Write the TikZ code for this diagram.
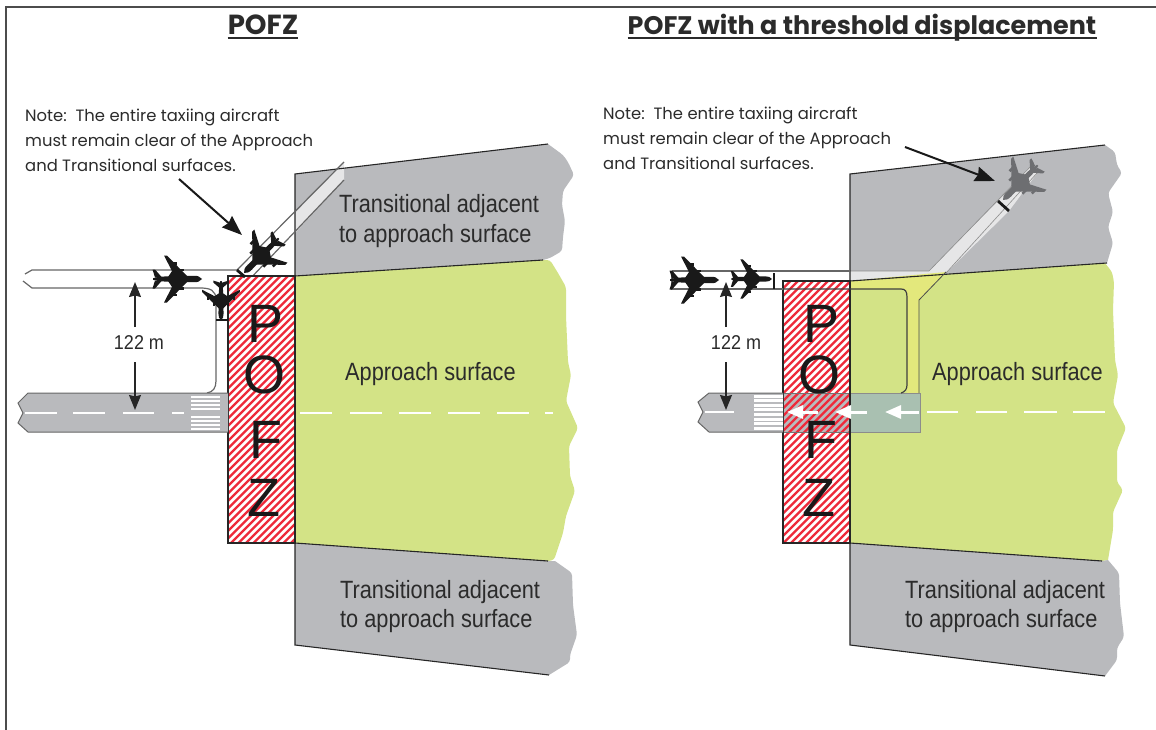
\documentclass[tikz,border=0pt]{standalone}
\usepackage{fontspec}
\usepackage{xcolor}
\usepackage{tikz}
\usetikzlibrary{arrows.meta}
\newfontfamily\notefont{Poppins}
\setmainfont{Liberation Sans}
\definecolor{surfgray}{HTML}{B9BABD}
\definecolor{surfgreen}{HTML}{D3E386}
\definecolor{taxiyellow}{HTML}{E3E87C}
\definecolor{taxilight}{HTML}{E6E6E7}
\definecolor{bandblue}{HTML}{A9C0B1}
\definecolor{hatchred}{HTML}{EE2A3A}
\definecolor{inktext}{HTML}{2B2B2B}
\definecolor{planegray}{HTML}{6D6E71}
\tikzstyle{arrow} = [-{Stealth[length=15pt,width=12pt,inset=1.5pt]}, line width=1.5pt, black!85]
\tikzstyle{notearrow} = [-{Stealth[length=20pt,width=15pt,inset=2pt]}, line width=2pt, black!90]
\tikzstyle{edgeline} = [line width=1.1pt, black!85]
\tikzstyle{taxiline} = [line width=1.2pt, black!60]
\tikzstyle{dashline} = [line width=2.4pt, white]
\tikzstyle{hatchline} = [line width=2.3pt, hatchred]
\tikzstyle{holdbar} = [line width=2.8pt, black!90]
\tikzstyle{uline} = [line width=2pt, inktext]
\tikzstyle{titletext} = [font=\notefont\bfseries, text=inktext, inner sep=0pt]
\tikzstyle{notetext} = [font=\notefont\fontsize{16.4}{25}\selectfont, text=inktext, align=left, anchor=north west, inner sep=0pt]
\tikzstyle{surftext} = [font=\fontsize{25}{29.5}\selectfont, text=inktext, align=left, anchor=west, inner sep=0pt, xscale=0.87, transform shape]
\tikzstyle{dimtext} = [font=\fontsize{20}{24}\selectfont, text=inktext, inner sep=0pt, xscale=0.9, transform shape]
\tikzstyle{pofztext} = [font=\fontsize{54}{54}\selectfont, text=black!90, inner sep=0pt]
\tikzset{plane/.pic={
	\fill [pic actions] (24,0) .. controls (22,2.4) and (20,3.2) .. (16,3.2) -- (-18,2.4) -- (-25,0.8) -- (-25,-0.8) -- (-18,-2.4) -- (16,-3.2) .. controls (20,-3.2) and (22,-2.4) .. (24,0) -- cycle;
	\foreach \s in {1,-1} {
		\fill [pic actions] (10,{2*\s}) -- (-11,{23.5*\s}) -- (-14,{23.5*\s}) -- (-6,{8*\s}) -- (-10,{2*\s}) -- cycle;
		\fill [pic actions] (-16,{1.5*\s}) -- (-23,{9.5*\s}) -- (-25.5,{9.5*\s}) -- (-23,{1.5*\s}) -- cycle;
		\fill [pic actions] (6,{8*\s}) -- (-1,{8*\s}) -- (-1,{10.5*\s}) -- (6,{10.5*\s}) -- cycle;
		\fill [pic actions] (-1,{14.5*\s}) -- (-7,{14.5*\s}) -- (-7,{17*\s}) -- (-1,{17*\s}) -- cycle;
	}
}}

\begin{document}
\begin{tikzpicture}[x=1pt, y=-1pt]
	\useasboundingbox (0,0) rectangle (1156,730);
	\draw [line width=1.3pt, black!70] (6,730) -- (6,7) -- (1156,7);

	\fill [surfgray] (295,174) -- (548,144) [rounded corners=3pt] -- (563,155) -- (568,162) -- (574,175) -- (563,191) -- (562,205) -- (565,221) -- (563,237) -- (562,251) -- (550,258) [sharp corners] -- (543,260) -- (295,276) -- cycle;
	\fill [surfgreen] (295,276) -- (543,260) [rounded corners=3pt] -- (550,260) -- (558,273) -- (566,287) -- (566,316) -- (568,362) -- (571,375) -- (566,401) -- (578,428) -- (569,446) -- (570,476) -- (575,491) -- (566,516) -- (563,533) -- (554,560) [sharp corners] -- (548,561) -- (295,543) -- cycle;
	\fill [surfgray] (295,543) -- (548,561) -- (555,561) [rounded corners=3pt] -- (572,573) -- (573,605) -- (577,635) -- (570,655) -- (570,662) [sharp corners] -- (549,675) -- (295,645) -- cycle;
	\fill [taxilight] (295,213) -- (344,162) -- (344,180) -- (295,233) -- cycle;
	\draw [edgeline] (548,144) -- (295,174) -- (295,276) -- (543,260);
	\draw [edgeline] (548,561) -- (295,543) -- (295,645) -- (549,675);
	\draw [taxiline] (237,270) -- (344,162);
	\draw [taxiline] (248,281) -- (344,180);
	\draw [taxiline] (25,274) -- (32,270) -- (237,270);
	\draw [taxiline] (23,281) -- (32,288) -- (200,288) .. controls (210,288) and (216,290) .. (216,300) -- (216,381) .. controls (216,388) and (213,392) .. (207,393);

	\fill [white] (228,276) rectangle (295,543);
	\begin{scope}
		\clip (228,276) rectangle (295,543);
		\foreach \i in {0,7.5,...,345} \draw [hatchline] (228,{276+\i}) -- (295,{276+\i-67});
	\end{scope}
	\draw [edgeline] (228,276) rectangle (295,543);

	\fill [surfgray] (228,393) -- (28,393) -- (18,403) -- (23,413) -- (18,423) -- (28,432) -- (228,432) -- cycle;
	\draw [line width=1pt, black!60] (228,393) -- (28,393) -- (18,403) -- (23,413) -- (18,423) -- (28,432) -- (228,432);
	\foreach \y in {397,401,405,409,417,421,425,429} \draw [line width=2pt, white] (191,\y) -- (220,\y);
	\foreach \a/\b in {25/57,73/105,123/154,172/184,300/332,350/382,399/431,448/480,497/529,545/553} \draw [dashline] (\a,413) -- (\b,413);

	\node (pofzP) [pofztext] at (266,323.5) {P};
	\node (pofzO) [pofztext] at (264.5,375) {O};
	\node (pofzF) [pofztext] at (266,439.5) {F};
	\node (pofzZ) [pofztext] at (264,497.5) {Z};

	\node (title1) [titletext, anchor=base, font=\notefont\bfseries\fontsize{27.6}{30}\selectfont] at (263,35) {POFZ};
	\draw [uline] ([yshift=-3pt]title1.base west) -- ([yshift=-3pt]title1.base east);
	\node (note1) [notetext] at (25,109) {Note:\ \ The entire taxiing aircraft\\must remain clear of the Approach\\and Transitional surfaces.};
	\node (trans1) [surftext] at (339,221) {Transitional adjacent\\to approach surface};
	\node (appr1) [surftext] at (345,374) {Approach surface};
	\node (trans2) [surftext] at (340,606.5) {Transitional adjacent\\to approach surface};

	\coordinate (tip1a) at (135,282);
	\coordinate (tip1b) at (135,410);
	\coordinate (from1a) at (135,327);
	\coordinate (from1b) at (135,362);
	\node (dim1) [dimtext] at (139,343) {122 m};
	\draw [arrow] (from1a) -- (tip1a);
	\draw [arrow] (from1b) -- (tip1b);
	\coordinate (notefrom1) at (179,179);
	\coordinate (notetip1) at (242,235);
	\draw [notearrow] (notefrom1) -- (notetip1);

	\pic [fill=black!90] at (178,279) {plane};
	\pic [fill=black!90, rotate=-90, scale=0.8] at (221,301) {plane};
	\pic [fill=black!90, rotate=225] at (261,256) {plane};
	\draw [holdbar] (216,320) -- (228,320);
	\draw [holdbar] (237,270) -- (245,277);

	\fill [surfgray] (850,174) -- (1105,145) [rounded corners=3pt] -- (1115,152) -- (1117,165) -- (1122,173) -- (1108,193) -- (1113,212) -- (1108,227) -- (1113,243) [sharp corners] -- (1107,263) -- (850,281) -- cycle;
	\fill [surfgreen] (850,281) -- (1105,263) [rounded corners=3pt] -- (1112,272) -- (1114,282) -- (1113,310) -- (1115,360) -- (1118,375) -- (1113,403) -- (1126,428) -- (1117,450) -- (1117,482) -- (1123,490) -- (1113,512) -- (1113,530) [sharp corners] -- (1108,560) -- (1102,561) -- (850,543) -- cycle;
	\fill [surfgray] (850,543) -- (1102,561) -- (1108,560) [rounded corners=3pt] -- (1119,573) -- (1120,603) -- (1124,637) -- (1117,648) -- (1117,660) [sharp corners] -- (1105,676) -- (850,645) -- cycle;
	\fill [taxilight] (850,271) -- (929,271) -- (997,202) -- (1034,163) -- (1038,172) -- (1009,211) -- (946,273) -- (850,281) -- cycle;
	\draw [line width=0.6pt, black!45] (850,271) -- (929,271) -- (1034,163);
	\draw [line width=0.6pt, black!45] (946,273) -- (1038,172);
	\fill [taxiyellow] (850,281) -- (946,272) -- (919,300) -- (919,393) -- (907,393) -- (907,297) .. controls (907,291) and (905,289) .. (901,289) -- (850,289) -- cycle;
	\draw [edgeline] (1105,145) -- (850,174) -- (850,281) -- (1107,263);
	\draw [line width=0.8pt, black!70] (946,272) -- (919,300) -- (919,393);
	\draw [edgeline] (1105,676) -- (850,645) -- (850,543) -- (1102,561);

	\fill [white] (783,281) rectangle (850,543);
	\fill [surfgray] (783,393) rectangle (850,432);
	\begin{scope}
		\clip (783,281) rectangle (850,543);
		\foreach \i in {0,7.5,...,345} \draw [hatchline] (783,{281+\i}) -- (850,{281+\i-67});
	\end{scope}
	\fill [bandblue] (850,393) rectangle (920,432);
	\draw [line width=0.6pt, black!45] (850,393) -- (920,393) -- (920,432) -- (850,432);
	\draw [line width=0.8pt, black!55] (783,393) -- (850,393);
	\draw [line width=0.8pt, black!55] (783,432) -- (850,432);
	\draw [edgeline] (783,281) rectangle (850,543);

	\fill [surfgray] (783,393) -- (709,393) -- (698,402) -- (703,412) -- (698,422) -- (709,432) -- (783,432) -- cycle;
	\draw [line width=1pt, black!60] (783,393) -- (709,393) -- (698,402) -- (703,412) -- (698,422) -- (709,432) -- (783,432);
	\foreach \y in {396,400.5,405,409.5,414.5,419,423.5,428} \draw [line width=3pt, white] (754,\y) -- (783,\y);
	\foreach \a/\b in {705/734,927/958,976/1007,1024/1057,1073/1105} \draw [dashline] (\a,412) -- (\b,412);
	\foreach \a/\b in {787/818,835/867,885/919} \draw [line width=3pt, white, {Triangle[length=16pt,width=13pt]}-] (\a,412) -- (\b,412);

	\draw [taxiline] (672,271) -- (850,271);
	\draw [taxiline] (672,271) -- (672,289) -- (783,289);
	\draw [line width=1.2pt, black!75] (783,289) -- (901,289) .. controls (905,289) and (907,291) .. (907,297) -- (907,385) .. controls (907,389) and (905,392) .. (901,393);

	\node (pofzP2) [pofztext] at (821,323.5) {P};
	\node (pofzO2) [pofztext] at (819.5,375) {O};
	\node (pofzF2) [pofztext] at (821,439.5) {F};
	\node (pofzZ2) [pofztext] at (819,497.5) {Z};

	\node (title2) [titletext, anchor=base, font=\notefont\bfseries\fontsize{25.4}{30}\selectfont] at (862,35) {POFZ with a threshold displacement};
	\draw [uline] ([yshift=-3pt]title2.base west) -- ([yshift=-3pt]title2.base east);
	\node (note2) [notetext] at (603,107) {Note:\ \ The entire taxiing aircraft\\must remain clear of the Approach\\and Transitional surfaces.};
	\node (appr2) [surftext] at (932,374) {Approach surface};
	\node (trans3) [surftext] at (905,606.5) {Transitional adjacent\\to approach surface};

	\coordinate (tip2a) at (726,282);
	\coordinate (tip2b) at (726,410);
	\coordinate (from2a) at (726,327);
	\coordinate (from2b) at (726,362);
	\node (dim2) [dimtext] at (736,343) {122 m};
	\draw [arrow] (from2a) -- (tip2a);
	\draw [arrow] (from2b) -- (tip2b);

	\pic [fill=black!90] at (695,280) {plane};
	\pic [fill=black!90, scale=0.83] at (752,279) {plane};
	\draw [holdbar] (774,273) -- (774,289);
	\pic [fill=planegray, rotate=225] at (1020,183) {plane};
	\draw [holdbar] (998,201) -- (1009,211);

	\coordinate (notefrom2) at (905,147);
	\coordinate (notetip2) at (995,181);
	\draw [notearrow] (notefrom2) -- (notetip2);
\end{tikzpicture}
\end{document}
